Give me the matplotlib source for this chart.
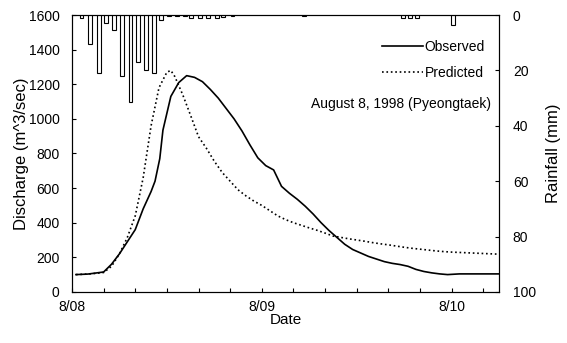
import matplotlib
matplotlib.use("Agg")
import matplotlib.pyplot as plt
import numpy as np

plt.rcParams['font.family'] = ['Liberation Sans', 'DejaVu Sans']
plt.rcParams['font.size'] = 10

# hours after 8/08 00:00
obs_h = [0.5, 2, 4, 5, 6, 7, 8, 9, 10, 10.5, 11.1, 11.5, 12.5, 13.5, 14.5, 15.5,
         16.5, 17.5, 18.5, 19.5, 20.5, 21.5, 22.5, 23.5, 24.5, 25.5, 26.5, 27.5,
         28.5, 29.5, 30.5, 31.5, 32.5, 33.5, 34.5, 35.5, 36.5, 37.5, 38.5, 39.5,
         40.5, 41.5, 42.5, 43.5, 44.5, 45.5, 46.5, 47.5, 49, 54]
obs_q = [100, 103, 115, 160, 220, 290, 360, 480, 580, 640, 770, 935, 1130, 1210,
         1250, 1240, 1215, 1170, 1120, 1060, 1000, 930, 850, 775, 730, 705, 610,
         570, 535, 495, 450, 400, 355, 315, 275, 245, 225, 205, 190, 175, 165,
         158, 148, 130, 118, 110, 104, 100, 104, 104]

pred_h = [0.5, 2, 3, 4, 5, 6, 7, 8, 9, 10, 11, 12, 12.5, 13, 14, 15, 16, 17, 18,
          19, 20, 21, 22, 23, 24, 25, 26, 27, 28, 29, 30, 31, 32, 33, 34, 35, 36,
          37, 38, 39, 40, 41, 42, 43, 44, 45, 46, 47, 48, 49, 50, 51, 52, 53, 54]
pred_q = [100, 103, 107, 112, 148, 220, 315, 440, 660, 960, 1180, 1270, 1280,
          1245, 1140, 1020, 897, 830, 755, 690, 640, 590, 555, 525, 500, 470,
          440, 418, 400, 385, 370, 356, 340, 323, 315, 307, 300, 293, 285, 278,
          272, 265, 258, 252, 247, 242, 237, 233, 230, 228, 226, 224, 222, 220, 218]

# hourly rainfall (mm)
rain_h = [1.2, 2.3, 3.4, 4.3, 5.3, 6.3, 7.4, 8.3, 9.4, 10.4, 11.3, 12.3, 13.3,
          14.3, 15.1, 16.2, 17.2, 18.3, 19.1, 20.3, 29.3, 41.9, 42.8, 43.6, 48.2]
rain_mm = [1.0, 10.5, 21, 3, 5.4, 22, 31.3, 16.8, 19.9, 20.8, 1.6, 0.3, 0.3,
           0.3, 1.0, 1.2, 1.2, 1.0, 0.8, 0.3, 0.3, 1.0, 1.0, 1.0, 3.6]

date_ticks = [0, 24, 48]
date_labels = ['8/08', '8/09', '8/10']

fig = plt.figure(figsize=(5.67, 3.43), dpi=100)
ax = fig.add_axes([0.127, 0.149, 0.753, 0.807])

ax.plot(obs_h, obs_q, color='black', lw=1.2, label='Observed')
ax.plot(pred_h, pred_q, color='black', lw=1.2, ls=':', label='Predicted')
ax.set_xlim(0, 54)
ax.set_ylim(0, 1600)
ax.set_yticks(np.arange(0, 1601, 200))
ax.set_xticks(date_ticks)
ax.set_xticklabels(date_labels)
ax.set_xticks(np.arange(0, 55, 4), minor=True)
ax.tick_params(which='both', direction='in', length=3, width=0.8)
ax.tick_params(axis='x', which='major', pad=6)
ax.tick_params(axis='y', pad=9)
ax.set_xlabel('Date', fontsize=11, labelpad=-1)
ax.set_ylabel('Discharge (m^3/sec)', fontsize=12, labelpad=0)

# rainfall hangs from the top
ax2 = ax.twinx()
ax2.bar(rain_h, rain_mm, width=0.5, color='white', edgecolor='black', lw=0.8)
ax2.set_ylim(100, 0)
ax2.set_yticks(np.arange(0, 101, 20))
ax2.tick_params(direction='in', length=3, width=0.8, pad=10)
ax2.set_ylabel('Rainfall (mm)', fontsize=12, labelpad=7)

for a in (ax, ax2):
    for s in a.spines.values():
        s.set_linewidth(0.8)

ax2.legend(*ax.get_legend_handles_labels(), loc='upper right',
           bbox_to_anchor=(0.98, 0.93), frameon=False, handlelength=3.0,
           handletextpad=0.1, labelspacing=0.85, borderaxespad=0)
ax2.text(0.77, 0.68, 'August 8, 1998 (Pyeongtaek)', transform=ax.transAxes,
         ha='center', va='center')

plt.savefig('out.png')
